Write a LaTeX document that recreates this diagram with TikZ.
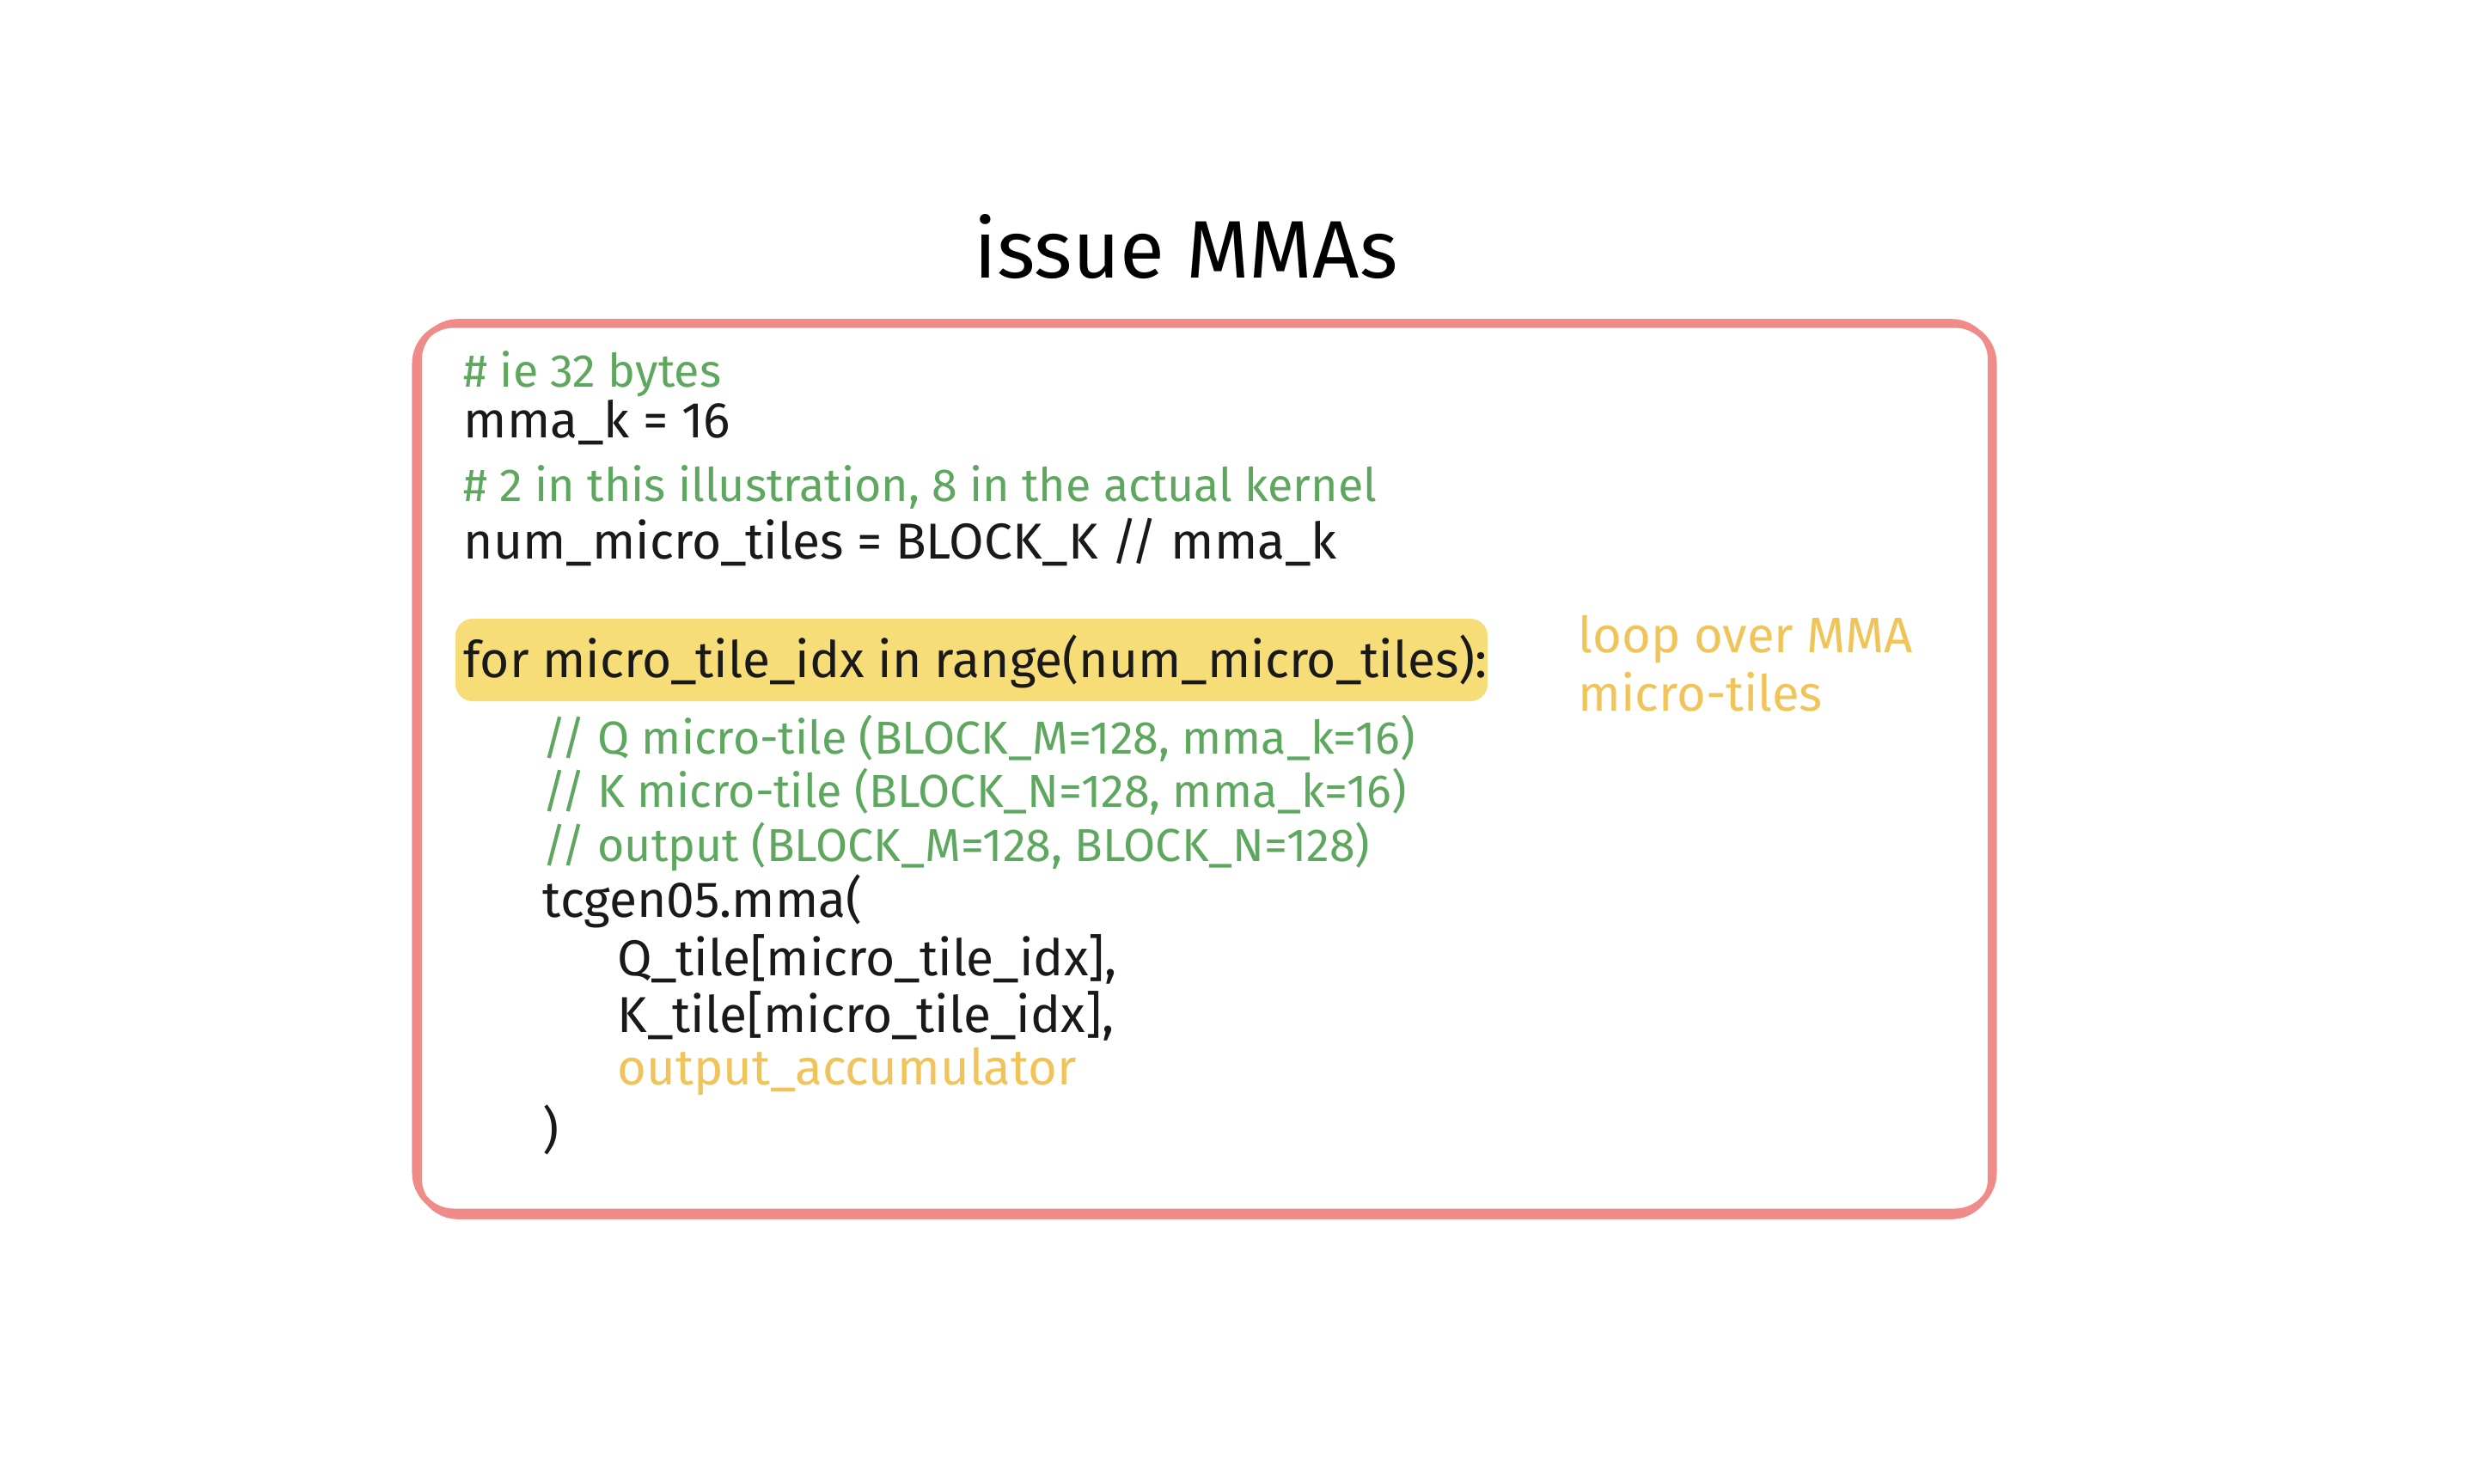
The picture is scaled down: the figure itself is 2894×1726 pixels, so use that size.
\documentclass[tikz,border=0pt]{standalone}
\usepackage{fontspec}
\setmainfont{Fira Sans}
\definecolor{frm}{HTML}{EF8B89}
\definecolor{hlt}{HTML}{F7DD78}
\definecolor{grn}{HTML}{5EA75F}
\definecolor{org}{HTML}{F1C45A}
\tikzstyle{cd}=[anchor=base west,inner sep=0pt,font=\fontsize{16.7}{18}\selectfont,text=black!90]
\tikzstyle{cmt}=[anchor=base west,inner sep=0pt,font=\fontsize{15.3}{17}\selectfont,text=grn]
\tikzstyle{nt}=[anchor=base west,inner sep=0pt,font=\fontsize{16.5}{18}\selectfont,text=org]
\tikzstyle{frame}=[draw=frm,line width=2pt,rounded corners=0.45cm]

\begin{document}
\begin{tikzpicture}[x=0.01cm,y=-0.01cm]
\useasboundingbox[fill=white] (0,0) rectangle (2894,1726);
% box, drawn twice for the sketchy look
\draw[frame] (483,378) rectangle (2320,1410);
\draw[frame,line width=1.6pt] (488,374) rectangle (2316,1416);
\fill[hlt,rounded corners=0.2cm] (530,720) rectangle (1731,816);
\node[anchor=base,inner sep=0pt,font=\fontsize{27}{30}\selectfont] (ttl) at (1380,323) {issue MMAs};
\node[cmt] (c1) at (539,450) {\# ie 32 bytes};
\node[cd] (l1) at (539,509) {mma\_k = 16};
\node[cmt] (c2) at (539,583) {\# 2 in this illustration, 8 in the actual kernel};
\node[cd] (l2) at (539,650) {num\_micro\_tiles = BLOCK\_K // mma\_k};
\node[cd] (l3) at (539,788) {for micro\_tile\_idx in range(num\_micro\_tiles):};
\node[cmt] (c3) at (631,877) {// Q micro-tile (BLOCK\_M=128, mma\_k=16)};
\node[cmt] (c4) at (631,939) {// K micro-tile (BLOCK\_N=128, mma\_k=16)};
\node[cmt] (c5) at (631,1002) {// output (BLOCK\_M=128, BLOCK\_N=128)};
\node[cd] (l4) at (631,1067) {tcgen05.mma(};
\node[cd] (l5) at (718,1135) {Q\_tile[micro\_tile\_idx],};
\node[cd] (l6) at (718,1201) {K\_tile[micro\_tile\_idx],};
\node[nt] (l7) at (718,1262) {output\_accumulator};
\node[cd] (l8) at (631,1335) {)};
\node[nt] (n1) at (1836,759) {loop over MMA};
\node[nt] (n2) at (1836,827) {micro-tiles};
\end{tikzpicture}
\end{document}
